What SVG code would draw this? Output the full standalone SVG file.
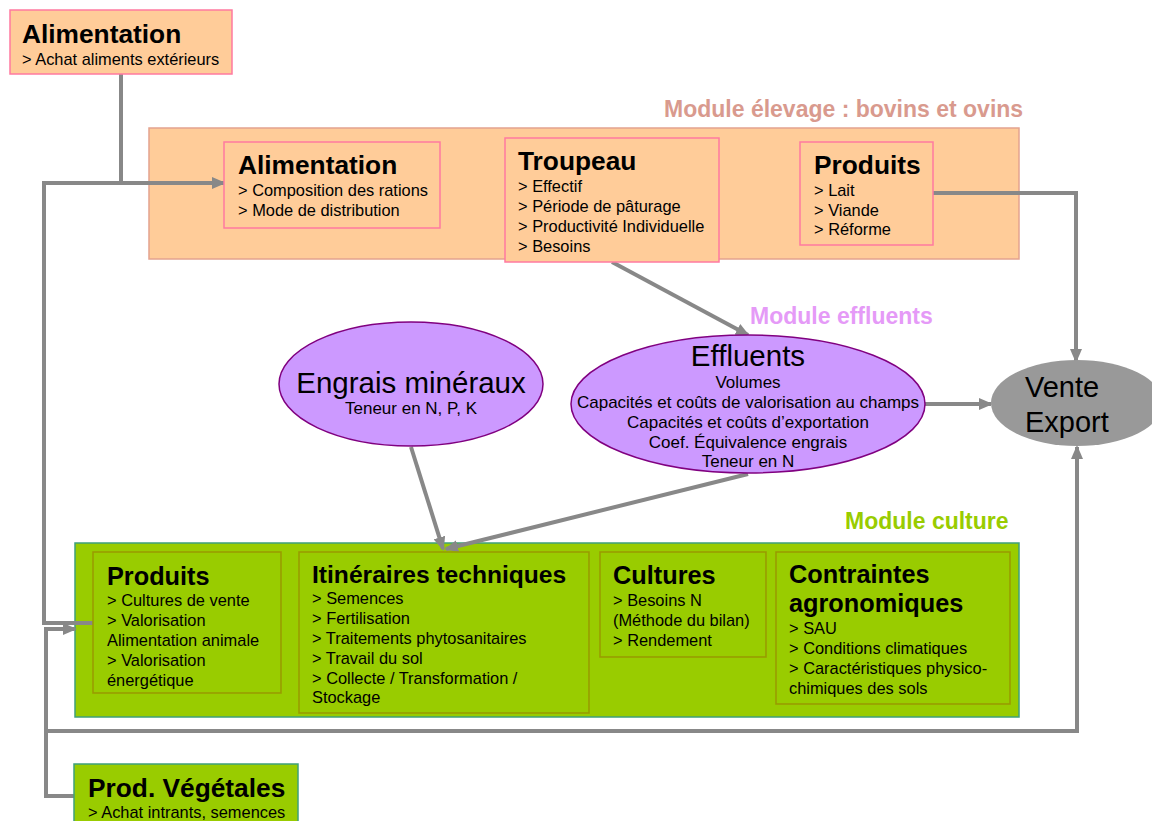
<svg xmlns="http://www.w3.org/2000/svg" width="1152" height="821" viewBox="0 0 1152 821">
<defs>
<marker id="ahl" markerWidth="14" markerHeight="12" refX="12" refY="6" orient="auto" markerUnits="userSpaceOnUse">
<path d="M0,0 L14,6 L0,12 z" fill="#888888"/>
</marker>
<style>
text{font-family:"Liberation Sans",Arial,sans-serif;fill:#000}
.t{font-size:26.3px;font-weight:bold}
.tc{font-size:25.3px;font-weight:bold}
.b{font-size:16.4px}
.c{font-size:17px;text-anchor:middle}
.big{font-size:29.5px;text-anchor:middle}
.mod{font-size:23px;font-weight:bold}
.or{fill:#FFCC99;stroke:#FF7AA0;stroke-width:1.5}
.orOut{fill:#FFCC99;stroke:#E4A38F;stroke-width:1.5}
.gr{fill:#99CC00;stroke:#999900;stroke-width:1.5}
.grOut{fill:#99CC00;stroke:#3FA07A;stroke-width:1.5}
.el{fill:#CC99FF;stroke:#800080;stroke-width:1.5}
.cn{fill:none;stroke:#888888;stroke-width:4}
</style>
</defs>

<g id="module-elevage">
<rect class="orOut" x="149" y="128" width="870" height="131"/>
<text class="mod" x="664" y="117" style="fill:#D99A8E">Module élevage : bovins et ovins</text>
</g>

<g id="module-culture">
<rect class="grOut" x="75" y="543" width="944" height="174"/>
<text class="mod" x="845" y="529" style="fill:#99CC00">Module culture</text>
</g>

<g id="connectors">
<path class="cn" d="M93,623 H44 V183 H224" marker-end="url(#ahl)"/>
<path class="cn" d="M121,74 V183"/>
<path class="cn" d="M74,796 H46 V629 H75" marker-end="url(#ahl)"/>
<path class="cn" d="M46,731 H1077 V447" marker-end="url(#ahl)"/>
<path class="cn" d="M933,193 H1076 V361" marker-end="url(#ahl)"/>
<path class="cn" d="M612,262 L748,335" marker-end="url(#ahl)"/>
<path class="cn" d="M748,474 L446,549" marker-end="url(#ahl)"/>
<path class="cn" d="M411,447 L443,549" marker-end="url(#ahl)"/>
<path class="cn" d="M925,404 H991" marker-end="url(#ahl)"/>
</g>

<g id="alimentation-ext">
<rect class="or" x="10" y="10" width="222" height="64"/>
<text class="t" x="22" y="43">Alimentation</text>
<text class="b" x="22" y="65">&gt; Achat aliments extérieurs</text>
</g>

<g id="alimentation">
<rect class="or" x="224" y="142" width="216" height="86"/>
<text class="t" x="238" y="174">Alimentation</text>
<text class="b" x="238" y="196">&gt; Composition des rations</text>
<text class="b" x="238" y="216">&gt; Mode de distribution</text>
</g>

<g id="troupeau">
<rect class="or" x="505" y="138" width="214" height="124"/>
<text class="t" x="518" y="170">Troupeau</text>
<text class="b" x="518" y="192">&gt; Effectif</text>
<text class="b" x="518" y="212">&gt; Période de pâturage</text>
<text class="b" x="518" y="232">&gt; Productivité Individuelle</text>
<text class="b" x="518" y="252">&gt; Besoins</text>
</g>

<g id="produits-elevage">
<rect class="or" x="800" y="142" width="133" height="103"/>
<text class="t" x="814" y="174">Produits</text>
<text class="b" x="814" y="196">&gt; Lait</text>
<text class="b" x="814" y="216">&gt; Viande</text>
<text class="b" x="814" y="235">&gt; Réforme</text>
</g>

<g id="effluents">
<text class="mod" x="750" y="324" style="fill:#E59AF7">Module effluents</text>
<ellipse class="el" cx="748" cy="404" rx="177" ry="69"/>
<text class="big" x="748" y="366">Effluents</text>
<text class="c" x="748" y="388">Volumes</text>
<text class="c" x="748" y="408">Capacités et coûts de valorisation au champs</text>
<text class="c" x="748" y="428">Capacités et coûts d’exportation</text>
<text class="c" x="748" y="448">Coef. Équivalence engrais</text>
<text class="c" x="748" y="467">Teneur en N</text>
</g>

<g id="engrais">
<ellipse class="el" cx="411" cy="384" rx="132" ry="62"/>
<text class="big" x="411" y="393">Engrais minéraux</text>
<text class="c" x="411" y="414">Teneur en N, P, K</text>
</g>

<g id="vente-export">
<ellipse cx="1077" cy="403" rx="86" ry="43" fill="#999999"/>
<text x="1025" y="397" style="font-size:29px">Vente</text>
<text x="1025" y="432" style="font-size:29px">Export</text>
</g>

<g id="produits-culture">
<rect class="gr" x="93" y="552" width="188" height="141"/>
<text class="tc" x="107" y="585">Produits</text>
<text class="b" x="107" y="606">&gt; Cultures de vente</text>
<text class="b" x="107" y="626">&gt; Valorisation</text>
<text class="b" x="107" y="646">Alimentation animale</text>
<text class="b" x="107" y="666">&gt; Valorisation</text>
<text class="b" x="107" y="686">énergétique</text>
</g>

<g id="itineraires">
<rect class="gr" x="299" y="552" width="290" height="161"/>
<text class="tc" x="312" y="583" style="font-size:24.6px">Itinéraires techniques</text>
<text class="b" x="312" y="604">&gt; Semences</text>
<text class="b" x="312" y="624">&gt; Fertilisation</text>
<text class="b" x="312" y="644">&gt; Traitements phytosanitaires</text>
<text class="b" x="312" y="664">&gt; Travail du sol</text>
<text class="b" x="312" y="684">&gt; Collecte / Transformation /</text>
<text class="b" x="312" y="703">Stockage</text>
</g>

<g id="cultures">
<rect class="gr" x="600" y="552" width="166" height="105"/>
<text class="tc" x="613" y="584">Cultures</text>
<text class="b" x="613" y="606">&gt; Besoins N</text>
<text class="b" x="613" y="626">(Méthode du bilan)</text>
<text class="b" x="613" y="646">&gt; Rendement</text>
</g>

<g id="contraintes">
<rect class="gr" x="776" y="552" width="234" height="152"/>
<text class="tc" x="789" y="583">Contraintes</text>
<text class="tc" x="789" y="612">agronomiques</text>
<text class="b" x="789" y="634">&gt; SAU</text>
<text class="b" x="789" y="654">&gt; Conditions climatiques</text>
<text class="b" x="789" y="674">&gt; Caractéristiques physico-</text>
<text class="b" x="789" y="694">chimiques des sols</text>
</g>

<g id="prod-vegetales">
<rect x="74" y="764" width="224" height="62" fill="#99CC00" stroke="#3FA07A" stroke-width="1.5"/>
<text class="t" x="88" y="797">Prod. Végétales</text>
<text class="b" x="88" y="818">&gt; Achat intrants, semences</text>
</g>
</svg>
